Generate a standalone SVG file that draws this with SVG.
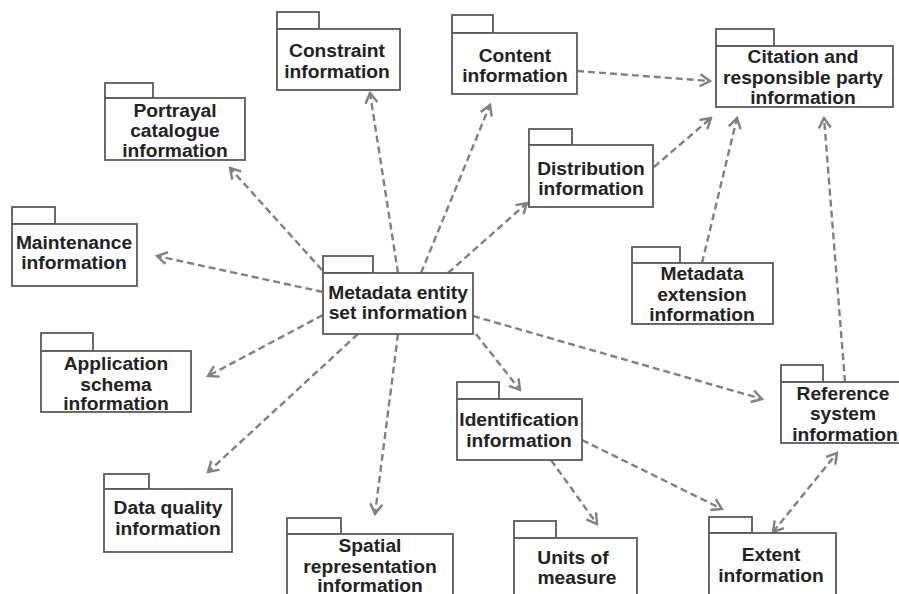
<svg xmlns="http://www.w3.org/2000/svg" width="899" height="594" viewBox="0 0 899 594">
  <style>
    .pkg rect { fill: #ffffff; stroke: #5a5a5a; stroke-width: 1.8; }
    .pkg text { font-family: "Liberation Sans", Arial, sans-serif; font-weight: bold; font-size: 19.2px; fill: #222222; text-anchor: middle; }
    .dep line { stroke: #808080; stroke-width: 2.4; stroke-dasharray: 7 4; fill: none; marker-end: url(#open); }
  </style>
  <defs>
    <marker id="open" viewBox="-12 -8 14 16" refX="0" refY="0" markerWidth="14" markerHeight="16" markerUnits="userSpaceOnUse" orient="auto-start-reverse">
      <path d="M-10,-6 L0,0 L-10,6" fill="none" stroke="#808080" stroke-width="2.4"/>
    </marker>
  </defs>
  <rect width="899" height="594" fill="#ffffff"/>

  <g class="dep" id="connectors">
    <line x1="322" y1="270" x2="230" y2="168"/>
    <line x1="398" y1="273" x2="370" y2="93"/>
    <line x1="421" y1="273" x2="490" y2="105"/>
    <line x1="448" y1="273" x2="527" y2="203"/>
    <line x1="323" y1="292" x2="157" y2="256"/>
    <line x1="323" y1="315" x2="208" y2="376"/>
    <line x1="358" y1="334" x2="208" y2="472"/>
    <line x1="398" y1="334" x2="375" y2="514"/>
    <line x1="476" y1="334" x2="520" y2="390"/>
    <line x1="473" y1="316" x2="762" y2="399"/>
    <line x1="577" y1="71" x2="710" y2="81"/>
    <line x1="654" y1="167" x2="711" y2="118"/>
    <line x1="702" y1="263" x2="737" y2="118"/>
    <line x1="845" y1="382" x2="824" y2="118"/>
    <line x1="551" y1="460" x2="597" y2="524"/>
    <line x1="582" y1="440" x2="722" y2="509"/>
    <line x1="773" y1="532" x2="837" y2="453" style="marker-start: url(#open)"/>
  </g>

  <g class="pkg" id="portrayal">
    <rect x="105" y="83" width="48" height="15"/>
    <rect x="105" y="98" width="140" height="62"/>
    <text x="175" y="116.5">Portrayal</text>
    <text x="175" y="137">catalogue</text>
    <text x="175" y="157">information</text>
  </g>

  <g class="pkg" id="constraint">
    <rect x="277" y="12" width="42" height="17"/>
    <rect x="277" y="29" width="123" height="61"/>
    <text x="337" y="57">Constraint</text>
    <text x="337" y="78">information</text>
  </g>

  <g class="pkg" id="content">
    <rect x="452" y="15" width="41" height="18"/>
    <rect x="452" y="33" width="125" height="61"/>
    <text x="515" y="61.5">Content</text>
    <text x="515" y="82">information</text>
  </g>

  <g class="pkg" id="citation">
    <rect x="716" y="29" width="58" height="17"/>
    <rect x="716" y="46" width="177" height="61"/>
    <text x="803" y="62.5">Citation and</text>
    <text x="803" y="83.5">responsible party</text>
    <text x="803" y="103.5">information</text>
  </g>

  <g class="pkg" id="distribution">
    <rect x="529" y="129" width="43" height="16"/>
    <rect x="529" y="145" width="124" height="62"/>
    <text x="591" y="174.5">Distribution</text>
    <text x="591" y="194.5">information</text>
  </g>

  <g class="pkg" id="maintenance">
    <rect x="12" y="207" width="43" height="17"/>
    <rect x="12" y="224" width="125" height="62"/>
    <text x="74" y="248.5">Maintenance</text>
    <text x="74" y="268.5">information</text>
  </g>

  <g class="pkg" id="metadata-entity-set">
    <rect x="323" y="256" width="50" height="17"/>
    <rect x="323" y="273" width="150" height="61"/>
    <text x="398" y="298.5">Metadata entity</text>
    <text x="398" y="318.5">set information</text>
  </g>

  <g class="pkg" id="metadata-extension">
    <rect x="632" y="247" width="48" height="16"/>
    <rect x="632" y="263" width="141" height="61"/>
    <text x="702" y="279.5">Metadata</text>
    <text x="702" y="300.5">extension</text>
    <text x="702" y="320.5">information</text>
  </g>

  <g class="pkg" id="application-schema">
    <rect x="41" y="333" width="52" height="18"/>
    <rect x="41" y="351" width="150" height="61"/>
    <text x="116" y="369.5">Application</text>
    <text x="116" y="390.5">schema</text>
    <text x="116" y="410">information</text>
  </g>

  <g class="pkg" id="identification">
    <rect x="457" y="382" width="42" height="17"/>
    <rect x="457" y="399" width="125" height="61"/>
    <text x="519" y="425.5">Identification</text>
    <text x="519" y="446.5">information</text>
  </g>

  <g class="pkg" id="reference-system">
    <rect x="781" y="365" width="42" height="17"/>
    <rect x="781" y="382" width="125" height="61"/>
    <text x="843" y="399.5">Reference</text>
    <text x="843" y="419.5">system</text>
    <text x="845" y="441">information</text>
  </g>

  <g class="pkg" id="data-quality">
    <rect x="104" y="474" width="45" height="15"/>
    <rect x="104" y="489" width="128" height="63"/>
    <text x="168" y="513.5">Data quality</text>
    <text x="168" y="534.5">information</text>
  </g>

  <g class="pkg" id="spatial-representation">
    <rect x="287" y="518" width="54" height="16"/>
    <rect x="287" y="534" width="166" height="70"/>
    <text x="370" y="551.5">Spatial</text>
    <text x="370" y="572.5">representation</text>
    <text x="370" y="591.5">information</text>
  </g>

  <g class="pkg" id="units-of-measure">
    <rect x="514" y="521" width="42" height="17"/>
    <rect x="514" y="538" width="123" height="66"/>
    <text x="573" y="563.5">Units of</text>
    <text x="577" y="583.5">measure</text>
  </g>

  <g class="pkg" id="extent">
    <rect x="709" y="517" width="43" height="16"/>
    <rect x="709" y="533" width="127" height="71"/>
    <text x="771" y="560.5">Extent</text>
    <text x="771" y="581.5">information</text>
  </g>
</svg>
